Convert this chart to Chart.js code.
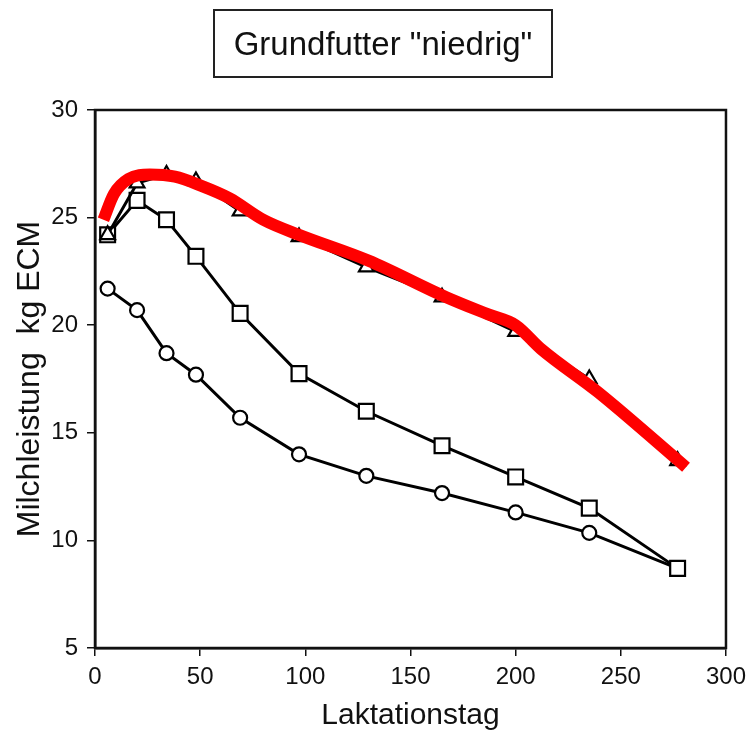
<!DOCTYPE html>
<html>
<head>
<meta charset="utf-8">
<script src="https://cdn.jsdelivr.net/npm/chart.js@4"></script>
<style>
  html, body { margin: 0; padding: 0; background: #fff; }
  #wrap { position: relative; width: 753px; height: 731px; }
  #chart { position: absolute; left: 0; top: 0; }
  #title {
    position: absolute; left: 213px; top: 9px; width: 336px; height: 65px;
    border: 2px solid #222; font-family: 'Liberation Sans', Arial, sans-serif;
    font-size: 33px; line-height: 65px; text-align: center; color: #111;
  }
</style>
</head>
<body>
<div id="wrap">
  <canvas id="chart" width="753" height="731"></canvas>
  <div id="title">Grundfutter "niedrig"</div>
</div>
<script>
// Laktationstage of the measured points
const days = [6, 20, 34, 48, 69, 97, 129, 165, 200, 235, 277];

// Milk yield per group, kg ECM
const circleValues = [21.7, 20.7, 18.7, 17.7, 15.7, 14.0, 13.0, 12.2, 11.3, 10.35, 8.7];
const squareValues = [24.2, 25.8, 24.9, 23.2, 20.55, 17.75, 16.0, 14.4, 12.95, 11.5, 8.7];
const triangleValues = [24.2, 26.6, 27.0, 26.7, 25.3, 24.1, 22.7, 21.3, 19.7, 17.5, 13.7];

// Red hand drawn curve
const redDays = [4, 9, 16, 26, 38, 50, 64, 80, 97, 130, 167, 187, 200, 212, 239, 281];
const redValues = [24.9, 26.1, 26.8, 27.0, 26.9, 26.5, 25.9, 24.9, 24.2, 23.0, 21.3, 20.5, 20.0, 18.9, 16.9, 13.4];

const xTicks = [0, 50, 100, 150, 200, 250, 300];
const yTicks = [5, 10, 15, 20, 25, 30];

const toXY = (xs, ys) => xs.map((x, i) => ({ x, y: ys[i] }));
const font = 'Liberation Sans, Arial, sans-serif';

// box around the plot area
const frame = {
  id: 'frame',
  afterDraw(chart) {
    const { ctx, chartArea: a } = chart;
    ctx.save();
    ctx.strokeStyle = '#111';
    ctx.lineWidth = 2.5;
    ctx.strokeRect(a.left, a.top, a.right - a.left, a.bottom - a.top);
    ctx.restore();
  },
};

const marker = (style, radius) => ({
  pointStyle: style,
  pointRadius: radius,
  pointBorderColor: '#000',
  pointBackgroundColor: '#fff',
  pointBorderWidth: 2.2,
  borderColor: '#000',
  borderWidth: 3,
  tension: 0,
  fill: false,
});

new Chart(document.getElementById('chart'), {
  type: 'line',
  data: {
    datasets: [
      {
        label: 'Kurve',
        data: toXY(redDays, redValues),
        borderColor: '#ff0000',
        borderWidth: 12,
        borderCapStyle: 'butt',
        cubicInterpolationMode: 'monotone',
        pointRadius: 0,
        fill: false,
        order: 0,
      },
      { label: 'Dreieck', data: toXY(days, triangleValues), ...marker('triangle', 8.5), order: 1 },
      { label: 'Quadrat', data: toXY(days, squareValues), ...marker('rect', 10.5), order: 2 },
      { label: 'Kreis', data: toXY(days, circleValues), ...marker('circle', 7), order: 3 },
    ],
  },
  options: {
    responsive: false,
    animation: false,
    layout: { padding: { top: 110, right: 24, bottom: 0, left: 0 } },
    scales: {
      x: {
        type: 'linear',
        min: 0,
        max: 300,
        afterBuildTicks: (s) => { s.ticks = xTicks.map(v => ({ value: v })); },
        afterFit: (s) => { s.height = 83; },
        ticks: { color: '#111', font: { family: font, size: 24 }, padding: 7, maxRotation: 0 },
        grid: { drawOnChartArea: false, tickLength: 8, color: '#111', lineWidth: 1.5 },
        border: { color: '#111', width: 2.5 },
        title: {
          display: true, text: 'Laktationstag', color: '#111',
          font: { family: font, size: 30, lineHeight: 1.0 }, padding: { top: 0, bottom: 0 },
        },
      },
      y: {
        min: 5,
        max: 30,
        afterBuildTicks: (s) => { s.ticks = yTicks.map(v => ({ value: v })); },
        afterFit: (s) => { s.width = 95; },
        ticks: { color: '#111', font: { family: font, size: 24 }, padding: 9 },
        grid: { drawOnChartArea: false, tickLength: 8, color: '#111', lineWidth: 1.5 },
        border: { color: '#111', width: 2.5 },
        title: {
          display: true, text: 'Milchleistung  kg ECM', color: '#111',
          font: { family: font, size: 32, lineHeight: 1.2 }, padding: { top: 11, bottom: 0 },
        },
      },
    },
    plugins: {
      legend: { display: false },
      tooltip: { enabled: false },
    },
  },
  plugins: [frame],
});
</script>
</body>
</html>
